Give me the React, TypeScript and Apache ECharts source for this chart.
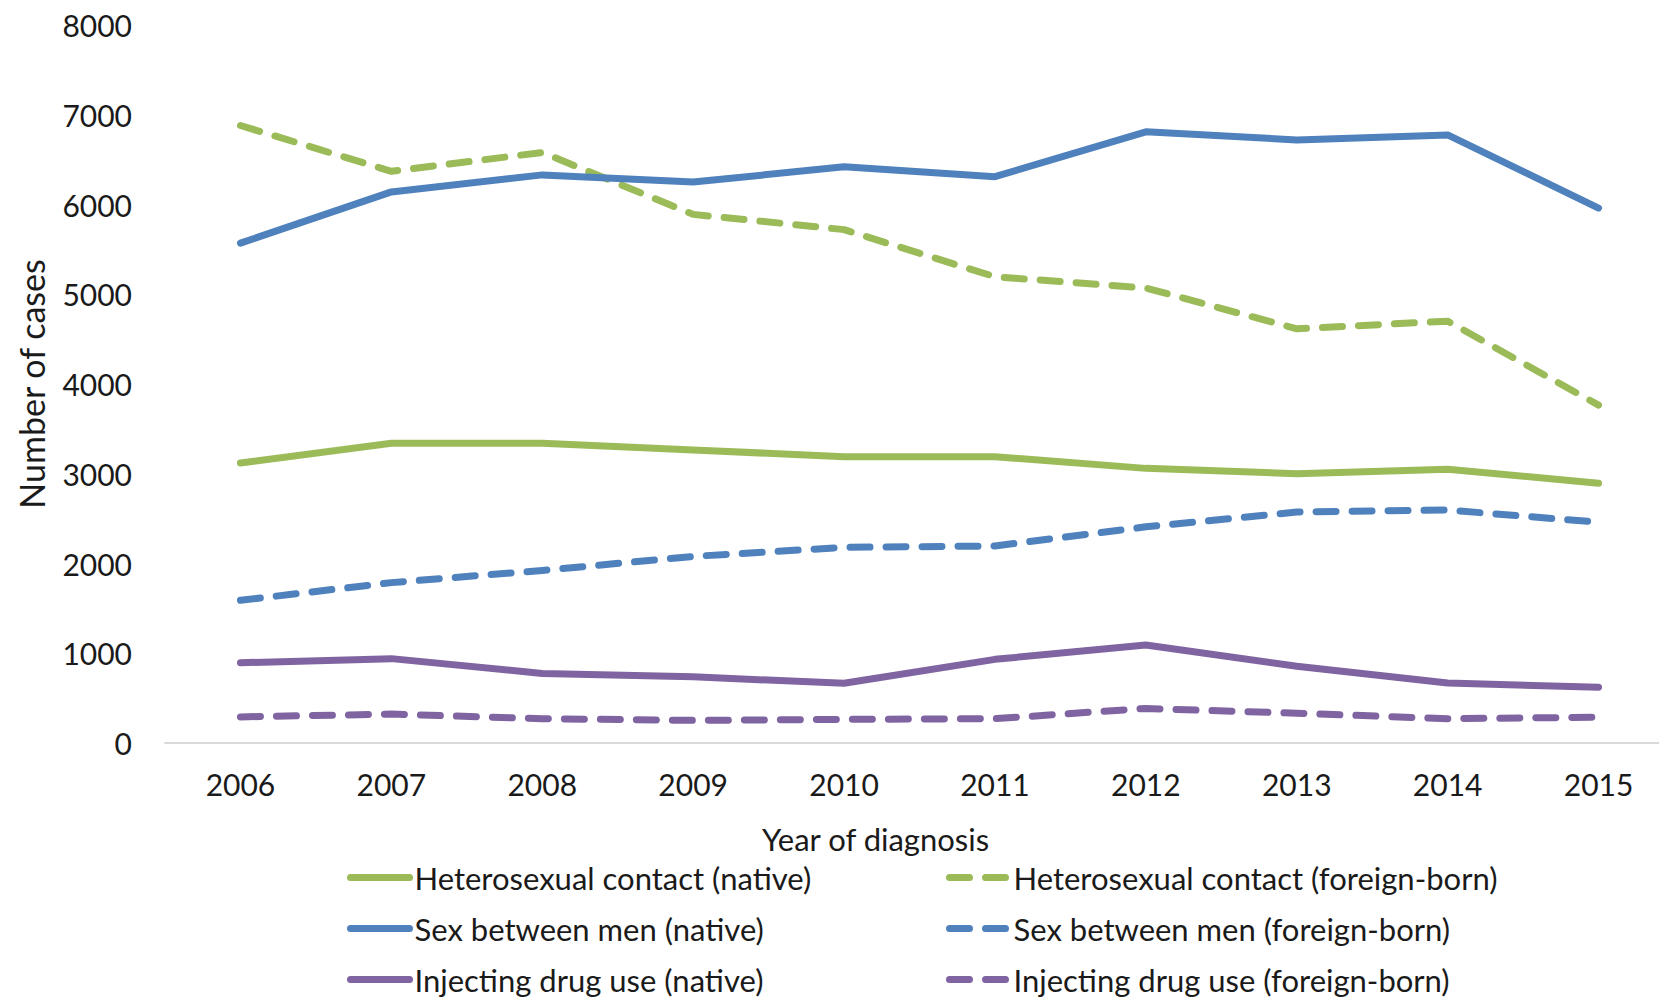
import React, { useEffect, useRef } from "react";
import * as echarts from "echarts";

// Year of diagnosis
const years = ["2006", "2007", "2008", "2009", "2010", "2011", "2012", "2013", "2014", "2015"];

// Number of cases by transmission route and origin
const heteroNative = [3120, 3340, 3340, 3265, 3190, 3190, 3060, 3000, 3050, 2895];
const heteroForeign = [6880, 6370, 6580, 5890, 5720, 5195, 5070, 4615, 4700, 3765];
const msmNative = [5570, 6140, 6330, 6250, 6420, 6310, 6810, 6720, 6775, 5960];
const msmForeign = [1590, 1787, 1923, 2079, 2180, 2195, 2409, 2573, 2596, 2460];
const iduNative = [894, 940, 775, 737, 665, 932, 1092, 855, 668, 622];
const iduForeign = [291, 322, 271, 252, 263, 271, 385, 332, 271, 287];

const seriesNames = [
  "Heterosexual contact (native)",
  "Heterosexual contact (foreign-born)",
  "Sex between men (native)",
  "Sex between men (foreign-born)",
  "Injecting drug use (native)",
  "Injecting drug use (foreign-born)",
];

const yTicks = { min: 0, max: 8000, interval: 1000 };

const GREEN = "#9BBB59";
const BLUE = "#4F81BD";
const PURPLE = "#8064A2";
const FONT = "Lato, 'Liberation Sans', sans-serif";
const TEXT = "#1a1a1a";
const DASH = [20, 16];

function lineSeries(name: string, data: number[], color: string, dashed: boolean) {
  return {
    name,
    type: "line",
    data,
    symbol: "none",
    smooth: false,
    lineStyle: {
      color,
      width: 7,
      type: dashed ? DASH : "solid",
      cap: "round",
      join: "round",
    },
    itemStyle: { color },
  };
}

export default function App() {
  const ref = useRef<HTMLDivElement>(null);

  useEffect(() => {
    if (!ref.current) return;
    const chart = echarts.init(ref.current, undefined, { renderer: "svg" });
    const legendCommon = {
      orient: "vertical",
      top: 862,
      height: 220,
      padding: 0,
      itemWidth: 59,
      itemHeight: 26,
      itemGap: 20,
      itemStyle: { opacity: 0 },
      lineStyle: { width: 7, type: "inherit", cap: "round" },
      textStyle: { fontFamily: FONT, fontSize: 31, color: TEXT, lineHeight: 26 },
      selectedMode: false,
    };
    chart.setOption({
      animation: false,
      backgroundColor: "#ffffff",
      textStyle: { fontFamily: FONT },
      grid: { left: 165, top: 25, width: 1509, height: 718, containLabel: false },
      legend: [
        { ...legendCommon, left: 347, data: [seriesNames[0], seriesNames[2], seriesNames[4]] },
        { ...legendCommon, left: 946, data: [seriesNames[1], seriesNames[3], seriesNames[5]] },
      ],
      xAxis: {
        type: "category",
        data: years,
        boundaryGap: true,
        name: "Year of diagnosis",
        nameLocation: "middle",
        nameGap: 80,
        nameTextStyle: { fontFamily: FONT, fontSize: 31, color: TEXT, padding: [0, 88, 0, 0] },
        axisLine: { show: true, lineStyle: { color: "#d9d9d9", width: 2 } },
        axisTick: { show: false },
        axisLabel: { fontFamily: FONT, fontSize: 30, color: TEXT, margin: 26 },
        splitLine: { show: false },
      },
      yAxis: {
        type: "value",
        min: yTicks.min,
        max: yTicks.max,
        interval: yTicks.interval,
        name: "Number of cases",
        nameLocation: "middle",
        nameGap: 117,
        nameTextStyle: { fontFamily: FONT, fontSize: 34, color: TEXT },
        axisLine: { show: false },
        axisTick: { show: false },
        axisLabel: {
          fontFamily: FONT,
          fontSize: 30,
          color: TEXT,
          margin: 33,
          formatter: (v: number) => String(v),
        },
        splitLine: { show: false },
      },
      series: [
        lineSeries(seriesNames[0], heteroNative, GREEN, false),
        lineSeries(seriesNames[1], heteroForeign, GREEN, true),
        lineSeries(seriesNames[2], msmNative, BLUE, false),
        lineSeries(seriesNames[3], msmForeign, BLUE, true),
        lineSeries(seriesNames[4], iduNative, PURPLE, false),
        lineSeries(seriesNames[5], iduForeign, PURPLE, true),
      ],
    });
    return () => chart.dispose();
  }, []);

  return (
    <div
      style={{
        position: "absolute",
        left: 0,
        top: 0,
        width: 1659,
        height: 997,
        overflow: "hidden",
        background: "#ffffff",
      }}
    >
      <div ref={ref} style={{ width: 1700, height: 997 }} />
    </div>
  );
}
